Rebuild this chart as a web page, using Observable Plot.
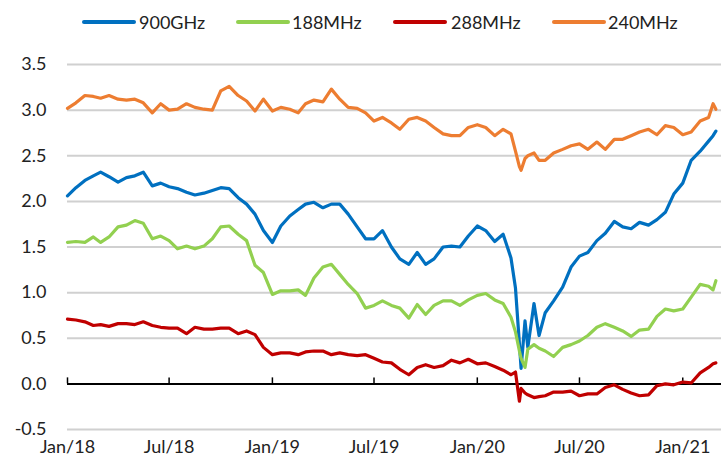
<!DOCTYPE html>
<html>
<head>
<meta charset="utf-8">
<script src="https://cdn.jsdelivr.net/npm/d3@7"></script>
<script src="https://cdn.jsdelivr.net/npm/@observablehq/plot@0.6"></script>
<style>
  html, body { margin: 0; padding: 0; background: #fff; }
  #wrap { position: relative; width: 721px; height: 459px; font-family: Lato, "Open Sans", sans-serif; color: #222; }
  #legend { position: relative; width: 721px; height: 44px; }
  .sw { position: absolute; top: 20px; height: 4px; width: 54px; border-radius: 2px; }
  .lt { position: absolute; top: 10px; line-height: 24px; font-size: 18px; color: #222; white-space: nowrap; }
  svg { display: block; }
</style>
</head>
<body>
<div id="wrap">
  <div id="legend"></div>
  <div id="chart"></div>
</div>
<script>
// ---- data ----
const seriesNames = ["900GHz", "188MHz", "288MHz", "240MHz"];
const seriesColors = ["#0070c0", "#92d050", "#c00000", "#ed7d31"];

const dates = [
  "2018-01-01","2018-01-16","2018-02-01","2018-02-16","2018-03-01","2018-03-16","2018-04-01","2018-04-16","2018-05-01","2018-05-16","2018-06-01","2018-06-16",
  "2018-07-01","2018-07-16","2018-08-01","2018-08-16","2018-09-01","2018-09-16","2018-10-01","2018-10-16","2018-11-01","2018-11-16","2018-12-01","2018-12-16",
  "2019-01-01","2019-01-16","2019-02-01","2019-02-16","2019-03-01","2019-03-16","2019-04-01","2019-04-16","2019-05-01","2019-05-16","2019-06-01","2019-06-16",
  "2019-07-01","2019-07-16","2019-08-01","2019-08-16","2019-09-01","2019-09-16","2019-10-01","2019-10-16","2019-11-01","2019-11-16","2019-12-01","2019-12-16",
  "2020-01-01","2020-01-16","2020-02-01","2020-02-16","2020-03-01","2020-03-09","2020-03-16","2020-03-19","2020-03-26","2020-03-31","2020-04-11","2020-04-20",
  "2020-05-01","2020-05-16","2020-06-01","2020-06-16","2020-07-01","2020-07-16","2020-08-01","2020-08-16","2020-09-01","2020-09-16","2020-10-01","2020-10-16",
  "2020-11-01","2020-11-16","2020-12-01","2020-12-16",
  "2021-01-01","2021-01-16","2021-02-01","2021-02-16","2021-02-24","2021-03-01"
];

const v900GHz = [
  2.06,2.15,2.23,2.28,2.32,2.27,2.21,2.26,2.28,2.32,2.17,2.20,
  2.16,2.14,2.10,2.07,2.09,2.12,2.15,2.14,2.04,1.97,1.86,1.68,
  1.55,1.73,1.84,1.91,1.97,1.99,1.93,1.97,1.97,1.86,1.72,1.59,
  1.59,1.68,1.50,1.37,1.31,1.44,1.31,1.37,1.50,1.51,1.50,1.62,
  1.73,1.68,1.56,1.64,1.38,1.05,0.44,0.17,0.69,0.40,0.88,0.53,
  0.78,0.91,1.06,1.28,1.40,1.44,1.57,1.65,1.78,1.72,1.70,1.77,
  1.74,1.80,1.88,2.08,
  2.20,2.45,2.55,2.66,2.72,2.77
];

const v188MHz = [
  1.55,1.56,1.55,1.61,1.55,1.61,1.72,1.74,1.79,1.76,1.59,1.62,
  1.57,1.48,1.51,1.48,1.51,1.59,1.72,1.73,1.64,1.57,1.30,1.22,
  0.98,1.02,1.02,1.03,0.97,1.16,1.28,1.31,1.20,1.09,0.99,0.83,
  0.86,0.91,0.86,0.83,0.72,0.87,0.76,0.86,0.91,0.91,0.86,0.92,
  0.97,0.99,0.92,0.88,0.73,0.57,0.36,0.28,0.18,0.38,0.43,0.39,
  0.36,0.30,0.40,0.43,0.47,0.53,0.62,0.66,0.62,0.58,0.52,0.59,
  0.60,0.74,0.82,0.80,
  0.82,0.95,1.09,1.07,1.03,1.13
];

const v288MHz = [
  0.71,0.70,0.68,0.64,0.65,0.63,0.66,0.66,0.65,0.68,0.64,0.62,
  0.61,0.61,0.55,0.62,0.60,0.60,0.61,0.61,0.55,0.58,0.54,0.40,
  0.32,0.34,0.34,0.32,0.35,0.36,0.36,0.32,0.34,0.32,0.31,0.32,
  0.28,0.24,0.23,0.16,0.10,0.18,0.21,0.18,0.20,0.26,0.23,0.27,
  0.22,0.23,0.19,0.15,0.10,0.13,-0.19,-0.05,-0.10,-0.12,-0.15,-0.14,
  -0.13,-0.09,-0.09,-0.08,-0.13,-0.11,-0.11,-0.04,-0.01,-0.06,-0.10,-0.13,
  -0.12,-0.02,0.00,-0.01,
  0.02,0.01,0.12,0.18,0.22,0.23
];

const v240MHz = [
  3.02,3.08,3.16,3.15,3.13,3.16,3.12,3.11,3.12,3.08,2.97,3.07,
  3.00,3.01,3.07,3.03,3.01,3.00,3.21,3.26,3.16,3.10,2.99,3.12,
  2.99,3.03,3.01,2.97,3.07,3.11,3.09,3.23,3.12,3.03,3.02,2.97,
  2.88,2.92,2.86,2.79,2.90,2.92,2.88,2.81,2.74,2.72,2.72,2.81,
  2.84,2.81,2.72,2.79,2.74,2.55,2.38,2.34,2.47,2.50,2.53,2.45,
  2.45,2.53,2.57,2.61,2.63,2.57,2.65,2.57,2.68,2.68,2.72,2.76,
  2.79,2.73,2.83,2.81,
  2.73,2.76,2.88,2.92,3.07,3.01
];

const yTicks = [-0.5, 0, 0.5, 1, 1.5, 2, 2.5, 3, 3.5];
const xTickLabels = ["Jan/18","Jul/18","Jan/19","Jul/19","Jan/20","Jul/20","Jan/21"];
const xTicks = ["2018-01-01","2018-07-01","2019-01-01","2019-07-01","2020-01-01","2020-07-01","2021-01-01"].map(s => new Date(s));
const xDomain = [new Date("2018-01-01"), new Date("2021-03-11")];

// ---- build table ----
const valueArrays = [v900GHz, v188MHz, v288MHz, v240MHz];
valueArrays.forEach((a, k) => {
  if (a.length !== dates.length) throw new Error(seriesNames[k] + " length " + a.length + " != " + dates.length);
});
const rows = [];
valueArrays.forEach((arr, k) => {
  arr.forEach((v, i) => rows.push({series: seriesNames[k], date: new Date(dates[i]), value: v}));
});

// ---- legend ----
const legendPos = [[82, 139], [236, 292], [393, 451], [552, 608]];
const legend = document.getElementById("legend");
seriesNames.forEach((name, k) => {
  const sw = document.createElement("div");
  sw.className = "sw";
  sw.style.left = legendPos[k][0] + "px";
  sw.style.background = seriesColors[k];
  legend.appendChild(sw);
  const t = document.createElement("div");
  t.className = "lt";
  t.style.left = legendPos[k][1] + "px";
  t.textContent = name;
  legend.appendChild(t);
});

// ---- chart ----
const labelMap = new Map(xTicks.map((d, i) => [+d, xTickLabels[i]]));
const chart = Plot.plot({
  width: 721,
  height: 415,
  marginLeft: 67,
  marginRight: 0,
  marginTop: 20,
  marginBottom: 30,
  style: {fontFamily: "Lato, 'Open Sans', sans-serif", fontSize: "18px", color: "#222", background: "#fff"},
  x: {type: "utc", domain: xDomain, label: null},
  y: {domain: [-0.5, 3.5], label: null},
  color: {domain: seriesNames, range: seriesColors},
  marks: [
    Plot.gridY(yTicks, {stroke: "#d0d0d0", strokeOpacity: 1, strokeWidth: 2}),
    Plot.axisY(yTicks, {tickSize: 0, tickPadding: 21, tickFormat: d => d.toFixed(1), fontSize: 18, fill: "#222", label: null}),
    Plot.axisX(xTicks, {tickSize: 0, tickPadding: 11, tickFormat: d => labelMap.get(+d), fontSize: 18, fill: "#222", label: null}),
    Plot.ruleY([0], {stroke: "#000", strokeWidth: 2}),
    Plot.ruleX(xTicks, {x: d => d, y1: 0, y2: 0, insetTop: -6, stroke: "#000", strokeWidth: 1.5}),
    Plot.line(rows, {x: "date", y: "value", z: "series", stroke: "series", strokeWidth: 3.2, strokeLinejoin: "round", strokeLinecap: "round"})
  ]
});
document.getElementById("chart").appendChild(chart);
</script>
</body>
</html>
